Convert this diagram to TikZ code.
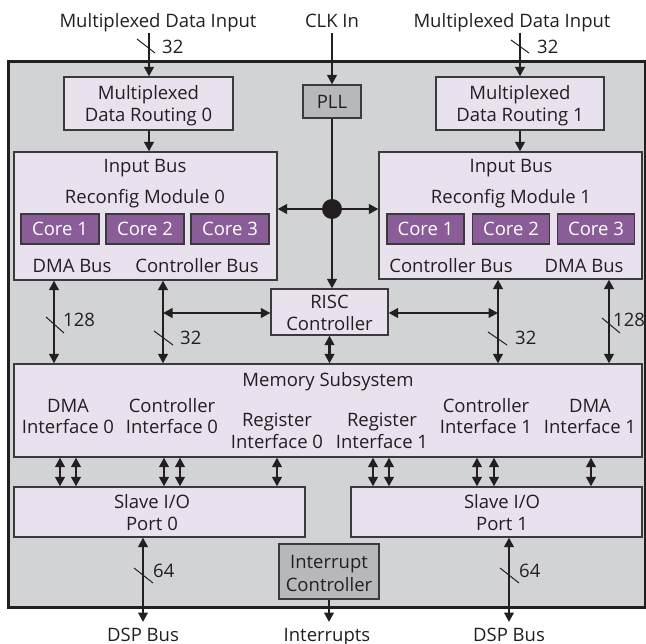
\documentclass[tikz,border=0pt]{standalone}
\usepackage{fontspec}
\setmainfont{Open Sans}
\usetikzlibrary{arrows.meta,calc}
\definecolor{bggray}{HTML}{D2D3D5}
\definecolor{lav}{HTML}{E9E1EE}
\definecolor{pllgray}{HTML}{B7B8BA}
\definecolor{corepurple}{HTML}{8A5C98}
\definecolor{boxline}{HTML}{3A3A3C}
\definecolor{arrc}{HTML}{231F20}
\definecolor{textc}{HTML}{231F20}
\begin{document}
\begin{tikzpicture}[x=1pt,y=-1pt,
  font=\fontsize{18.5}{22}\selectfont,
  outerbox/.style={draw=arrc, line width=3pt, fill=bggray, inner sep=0pt},
  box/.style={draw=boxline, line width=1.2pt, fill=lav, inner sep=0pt, text=textc},
  graybox/.style={box, fill=pllgray},
  core/.style={draw=boxline, line width=1.2pt, fill=corepurple, text=white, inner sep=0pt, minimum height=30pt},
  txt/.style={inner sep=0pt, anchor=base, text=textc},
  num/.style={inner sep=0pt, anchor=base west, text=textc},
  plainline/.style={line width=2.9pt, draw=arrc},
  arr/.style={plainline, -{Triangle[length=9.5pt,width=9.5pt]}},
  darr/.style={plainline, {Triangle[length=9.5pt,width=9.5pt]}-{Triangle[length=9.5pt,width=9.5pt]}},
  tickmark/.style={line width=1pt, draw=arrc},
]
\useasboundingbox (0,0) rectangle (646,644);

% outer chip
\node[outerbox, minimum width=637pt, minimum height=545pt] (outer) at (326.5,334.5) {};

% top texts
\node[txt] (mdi0) at (158,28) {Multiplexed Data Input};
\node[txt] (clk) at (332,28) {CLK In};
\node[txt] (mdi1) at (512,28) {Multiplexed Data Input};

% routing boxes
\node[box, minimum width=169pt, minimum height=53pt] (mdr0) at (148.5,103.5) {};
\node[txt] (mdr0a) at (148.5,100) {Multiplexed};
\node[txt] (mdr0b) at (148.5,122) {Data Routing 0};
\node[box, minimum width=168pt, minimum height=53pt] (mdr1) at (520,103.5) {};
\node[txt] (mdr1a) at (520,100) {Multiplexed};
\node[txt] (mdr1b) at (520,122) {Data Routing 1};

% PLL
\node[graybox, minimum width=58pt, minimum height=33pt] (pll) at (332,101.5) {PLL};

% reconfig modules
\node[box, minimum width=263pt, minimum height=128pt] (rm0) at (145.5,216) {};
\node[txt] (rm0a) at (145,173) {Input Bus};
\node[txt] (rm0b) at (145,204) {Reconfig Module 0};
\node[core, minimum width=78pt] (c01) at (60,229) {Core 1};
\node[core, minimum width=78pt] (c02) at (145,229) {Core 2};
\node[core, minimum width=78pt] (c03) at (230,229) {Core 3};
\node[txt] (rm0d) at (72,273) {DMA Bus};
\node[txt] (rm0c) at (197,273) {Controller Bus};

\node[box, minimum width=263pt, minimum height=127pt] (rm1) at (510.5,215.5) {};
\node[txt] (rm1a) at (511,173) {Input Bus};
\node[txt] (rm1b) at (511,204) {Reconfig Module 1};
\node[core, minimum width=77pt] (c11) at (425.5,229) {Core 1};
\node[core, minimum width=77pt] (c12) at (511,229) {Core 2};
\node[core, minimum width=77pt] (c13) at (596,229) {Core 3};
\node[txt] (rm1c) at (451,273) {Controller Bus};
\node[txt] (rm1d) at (584,273) {DMA Bus};

% clock junction
\node[circle, fill=arrc, minimum size=20pt, inner sep=0pt] (dot) at (332,209) {};

% RISC
\node[box, minimum width=117pt, minimum height=46pt] (risc) at (329.5,312) {};
\node[txt] (risca) at (329.5,309) {RISC};
\node[txt] (riscb) at (329.5,331) {Controller};

% memory subsystem
\node[box, minimum width=628pt, minimum height=93pt] (mem) at (328,410.5) {};
\node[txt] (memt) at (328,387) {Memory Subsystem};
\node[txt] (md0a) at (68,413) {DMA};
\node[txt] (md0b) at (68,434) {Interface 0};
\node[txt] (mc0a) at (172,413) {Controller};
\node[txt] (mc0b) at (172,434) {Interface 0};
\node[txt] (mr0a) at (277,427) {Register};
\node[txt] (mr0b) at (277,449) {Interface 0};
\node[txt] (mr1a) at (382,427) {Register};
\node[txt] (mr1b) at (382,449) {Interface 1};
\node[txt] (mc1a) at (486,413) {Controller};
\node[txt] (mc1b) at (486,434) {Interface 1};
\node[txt] (md1a) at (590,413) {DMA};
\node[txt] (md1b) at (590,434) {Interface 1};

% slave ports
\node[box, minimum width=291pt, minimum height=50pt] (slave0) at (159.5,512) {};
\node[txt] (s0a) at (152,508) {Slave I/O};
\node[txt] (s0b) at (152,531) {Port 0};
\node[box, minimum width=291pt, minimum height=50pt] (slave1) at (496.5,512) {};
\node[txt] (s1a) at (502,508) {Slave I/O};
\node[txt] (s1b) at (502,531) {Port 1};

% interrupt controller
\node[graybox, minimum width=100pt, minimum height=55pt] (intc) at (329,571.5) {};
\node[txt] (intca) at (329,568) {Interrupt};
\node[txt] (intcb) at (329,591) {Controller};

% bottom texts
\node[txt] (dsp0) at (143,641) {DSP Bus};
\node[txt] (irq) at (327,641) {Interrupts};
\node[txt] (dsp1) at (509,641) {DSP Bus};

% free ends and x positions
\coordinate (clkS) at (332,33);
\coordinate (dspA) at (143,622);
\coordinate (intA) at (329,622);
\coordinate (dspB) at (509,622);
\coordinate (xin0) at (149,0);
\coordinate (xin1) at (520,0);
\coordinate (xd0) at (54,0);
\coordinate (xc0) at (163,0);
\coordinate (xc1) at (498,0);
\coordinate (xd1) at (609,0);
\coordinate (hl) at (0,313);

% top connectors
\draw[arr] (xin0 |- mdi0.south) -- (xin0 |- mdr0.north);
\draw[arr] (xin0 |- mdr0.south) -- (xin0 |- rm0.north);
\draw[arr] (xin1 |- mdi1.south) -- (xin1 |- mdr1.north);
\draw[arr] (xin1 |- mdr1.south) -- (xin1 |- rm1.north);
\draw[arr] (clkS) -- (pll.north);
\draw[plainline] (pll.south) -- (dot.center);
\draw[arr] (dot) -- (dot -| rm0.east);
\draw[arr] (dot) -- (dot -| rm1.west);
\draw[arr] (dot) -- (dot |- risc.north);

% buses to memory
\draw[darr] (xd0 |- rm0.south) -- (xd0 |- mem.north);
\draw[darr] (xc0 |- rm0.south) -- (xc0 |- mem.north);
\draw[darr] (xc1 |- rm1.south) -- (xc1 |- mem.north);
\draw[darr] (xd1 |- rm1.south) -- (xd1 |- mem.north);
\draw[darr] (xc0 |- hl) -- (risc.west |- hl);
\draw[darr] (risc.east |- hl) -- (xc1 |- hl);
\draw[darr] (risc.south) -- (risc.south |- mem.north);

% memory to slave ports
\foreach \x in {60,76,164,180,277}{
  \coordinate (ms\x) at (\x,0);
  \draw[darr] (ms\x |- mem.south) -- (ms\x |- slave0.north);
}
\foreach \x in {373,389,477,494,591}{
  \coordinate (ms\x) at (\x,0);
  \draw[darr] (ms\x |- mem.south) -- (ms\x |- slave1.north);
}

% bottom connectors
\draw[darr] (dspA |- slave0.south) -- (dspA);
\draw[darr] (dspB |- slave1.south) -- (dspB);
\draw[arr] (intA |- intc.south) -- (intA);

% bus width ticks and labels
\draw[tickmark] (137,39) -- (155,53);
\node[num] (w1) at (162,54) {32};
\draw[tickmark] (511,40) -- (529,53);
\node[num] (w2) at (537,54) {32};
\draw[tickmark] (46,317) -- (64,333);
\node[num] (w3) at (63,327) {128};
\draw[tickmark] (154,331) -- (173,345);
\node[num] (w4) at (180,345) {32};
\draw[tickmark] (488,332) -- (507,345);
\node[num] (w5) at (515,345) {32};
\draw[tickmark] (602,318) -- (620,333);
\node[num] (w6) at (613,327) {128};
\draw[tickmark] (134,568) -- (153,583);
\node[num] (w7) at (153,577) {64};
\draw[tickmark] (500,568) -- (519,583);
\node[num] (w8) at (519,577) {64};
\end{tikzpicture}
\end{document}
